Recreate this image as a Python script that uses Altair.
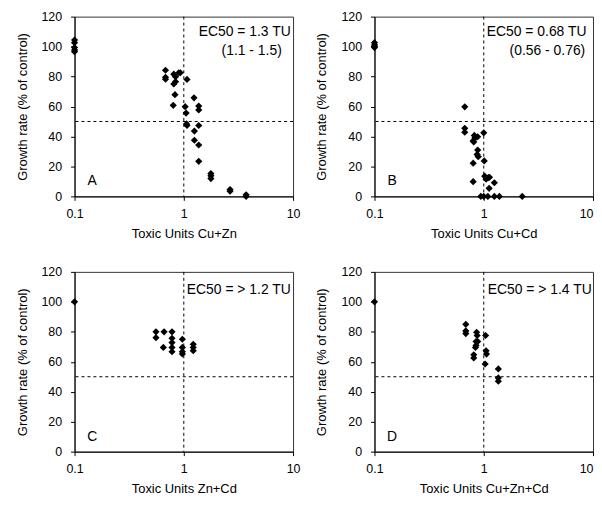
import altair as alt
import pandas as pd

FONT = "Liberation Sans"

# Panel A: Cu+Zn
a_x = [0.1, 0.1, 0.1, 0.1, 0.1, 0.68, 0.68, 0.68, 0.81, 0.81, 0.84, 0.84, 0.90, 0.93, 0.83, 0.80,
       1.07, 1.03, 1.05, 1.06, 1.07, 1.24, 1.37, 1.37, 1.37, 1.25, 1.25, 1.37, 1.37,
       1.77, 1.77, 1.77, 2.65, 2.65, 3.72, 3.72]
a_y = [104.4, 102.6, 99.4, 97.7, 96.6, 84.2, 79.5, 78.2, 81.6, 75.0, 79.9, 76.6, 82.5, 82.5, 67.9, 60.8,
       78.1, 59.9, 55.6, 48.4, 47.3, 65.8, 60.3, 57.7, 47.3, 43.6, 37.5, 34.3, 23.4,
       15.2, 13.7, 11.9, 4.6, 3.5, 1.1, 0.0]

# Panel B: Cu+Cd
b_x = [0.1, 0.1, 0.1, 0.1, 0.67, 0.67, 0.67, 0.82, 0.81, 0.83, 0.88, 0.80, 0.88, 0.87, 0.89, 0.80, 0.80,
       1.0, 1.01, 1.02, 1.05, 1.10, 1.13, 1.12, 1.25, 0.94, 1.0, 1.09, 1.25, 1.39, 2.25]
b_y = [102.6, 101.1, 100.0, 99.3, 59.8, 45.4, 42.8, 40.7, 36.3, 38.9, 39.8, 37.0, 30.9, 28.0, 26.5, 22.2, 9.8,
       42.4, 23.7, 13.5, 11.5, 12.5, 12.8, 5.4, 9.1, 0.0, 0.0, 0.0, 0.0, 0.0, 0.0]

# Panel C: Zn+Cd
c_x = [0.1, 0.556, 0.556, 0.66, 0.65, 0.78, 0.78, 0.78, 0.78, 0.78, 0.97, 0.97, 0.97, 0.97, 1.22, 1.22, 1.22]
c_y = [100.0, 80.0, 76.1, 80.0, 69.6, 80.0, 75.7, 72.8, 69.6, 66.7, 75.0, 69.6, 66.7, 65.2, 71.7, 69.6, 67.4]

# Panel D: Cu+Zn+Cd
d_x = [0.1, 0.685, 0.685, 0.685, 0.86, 0.87, 0.85, 0.85, 0.84, 0.81, 0.81, 0.88, 1.04, 1.05, 1.06, 1.03,
       1.36, 1.36, 1.36]
d_y = [100.0, 85.0, 80.6, 78.8, 79.7, 77.5, 73.5, 70.9, 69.5, 64.7, 62.5, 73.5, 77.5, 67.3, 65.1, 58.5,
       55.2, 49.2, 47.0]

x_titles = ["Toxic Units Cu+Zn", "Toxic Units Cu+Cd", "Toxic Units Zn+Cd", "Toxic Units Cu+Zn+Cd"]
letters = ["A", "B", "C", "D"]
notes = [["EC50 = 1.3 TU", "(1.1 - 1.5)"], ["EC50 = 0.68 TU", "(0.56 - 0.76)"],
         ["EC50 = > 1.2 TU"], ["EC50 = > 1.4 TU"]]
note_dx = [[15, 38], [3, 26], [3], [4]]
note_y = [[110, 97], [110, 97], [108], [108]]
x_ticks = [0.1, 1, 10]
y_ticks = [0, 20, 40, 60, 80, 100, 120]

XS = alt.Scale(type="log", domain=[0.1, 10])
YS = alt.Scale(domain=[0, 120])


def panel(i, xs, ys):
    right_col = i in (1, 3)
    label_align = ({"condition": {"test": "datum.value >= 10", "value": "right"}, "value": "center"}
                   if right_col else "center")
    xax = alt.Axis(values=x_ticks, format="~g", title=x_titles[i], grid=False, tickSize=4,
                   labelPadding=7, titlePadding=8, labelOverlap=False, labelFlush=False,
                   labelAlign=label_align,
                   titleFontWeight="normal", labelFontSize=12.5, titleFontSize=13)
    yax = alt.Axis(values=y_ticks, title="Growth rate (% of control)", grid=False, tickSize=4,
                   labelPadding=9, titlePadding=12, labelOverlap=False, labelFlush=False,
                   titleFontWeight="normal", labelFontSize=12.5, titleFontSize=13)
    X = lambda: alt.X("x:Q", scale=XS, axis=xax)
    Y = lambda: alt.Y("y:Q", scale=YS, axis=yax)
    pts = pd.DataFrame({"x": xs, "y": ys})
    points = alt.Chart(pts).mark_point(shape="diamond", filled=True, color="black", size=52, opacity=1).encode(
        x=X(), y=Y())
    vline = alt.Chart(pd.DataFrame({"x": [1]})).mark_rule(color="black", strokeDash=[3, 3], strokeWidth=1).encode(
        x=X())
    hline = alt.Chart(pd.DataFrame({"y": [50]})).mark_rule(color="black", strokeDash=[3, 3], strokeWidth=1).encode(
        y=Y())
    layers = [points, hline, vline]
    for t, dx, yv in zip(notes[i], note_dx[i], note_y[i]):
        layers.append(alt.Chart(pd.DataFrame({"x": [1], "y": [yv], "t": [t]})).mark_text(
            align="left", baseline="middle", dx=dx, fontSize=14, font=FONT, color="black").encode(
            x=X(), y=Y(), text="t:N"))
    layers.append(alt.Chart(pd.DataFrame({"x": [0.145], "y": [10], "t": [letters[i]]})).mark_text(
        align="center", baseline="middle", fontSize=14, font=FONT, color="black").encode(
        x=X(), y=Y(), text="t:N"))
    return alt.layer(*layers).properties(width=220, height=181)


pa = panel(0, a_x, a_y)
pb = panel(1, b_x, b_y)
pc = panel(2, c_x, c_y)
pd_ = panel(3, d_x, d_y)

chart = alt.vconcat(
    alt.hconcat(pa, pb, spacing=14),
    alt.hconcat(pc, pd_, spacing=14),
    spacing=24,
    padding={"left": 7, "top": 0, "right": 0, "bottom": 0},
).configure_view(stroke="#333", strokeWidth=1).configure_axis(
    labelFont=FONT, titleFont=FONT, labelColor="black", titleColor="black",
    domainColor="black", tickColor="black",
)

chart.save("out.html", embed_options={"renderer": "svg", "actions": False})
